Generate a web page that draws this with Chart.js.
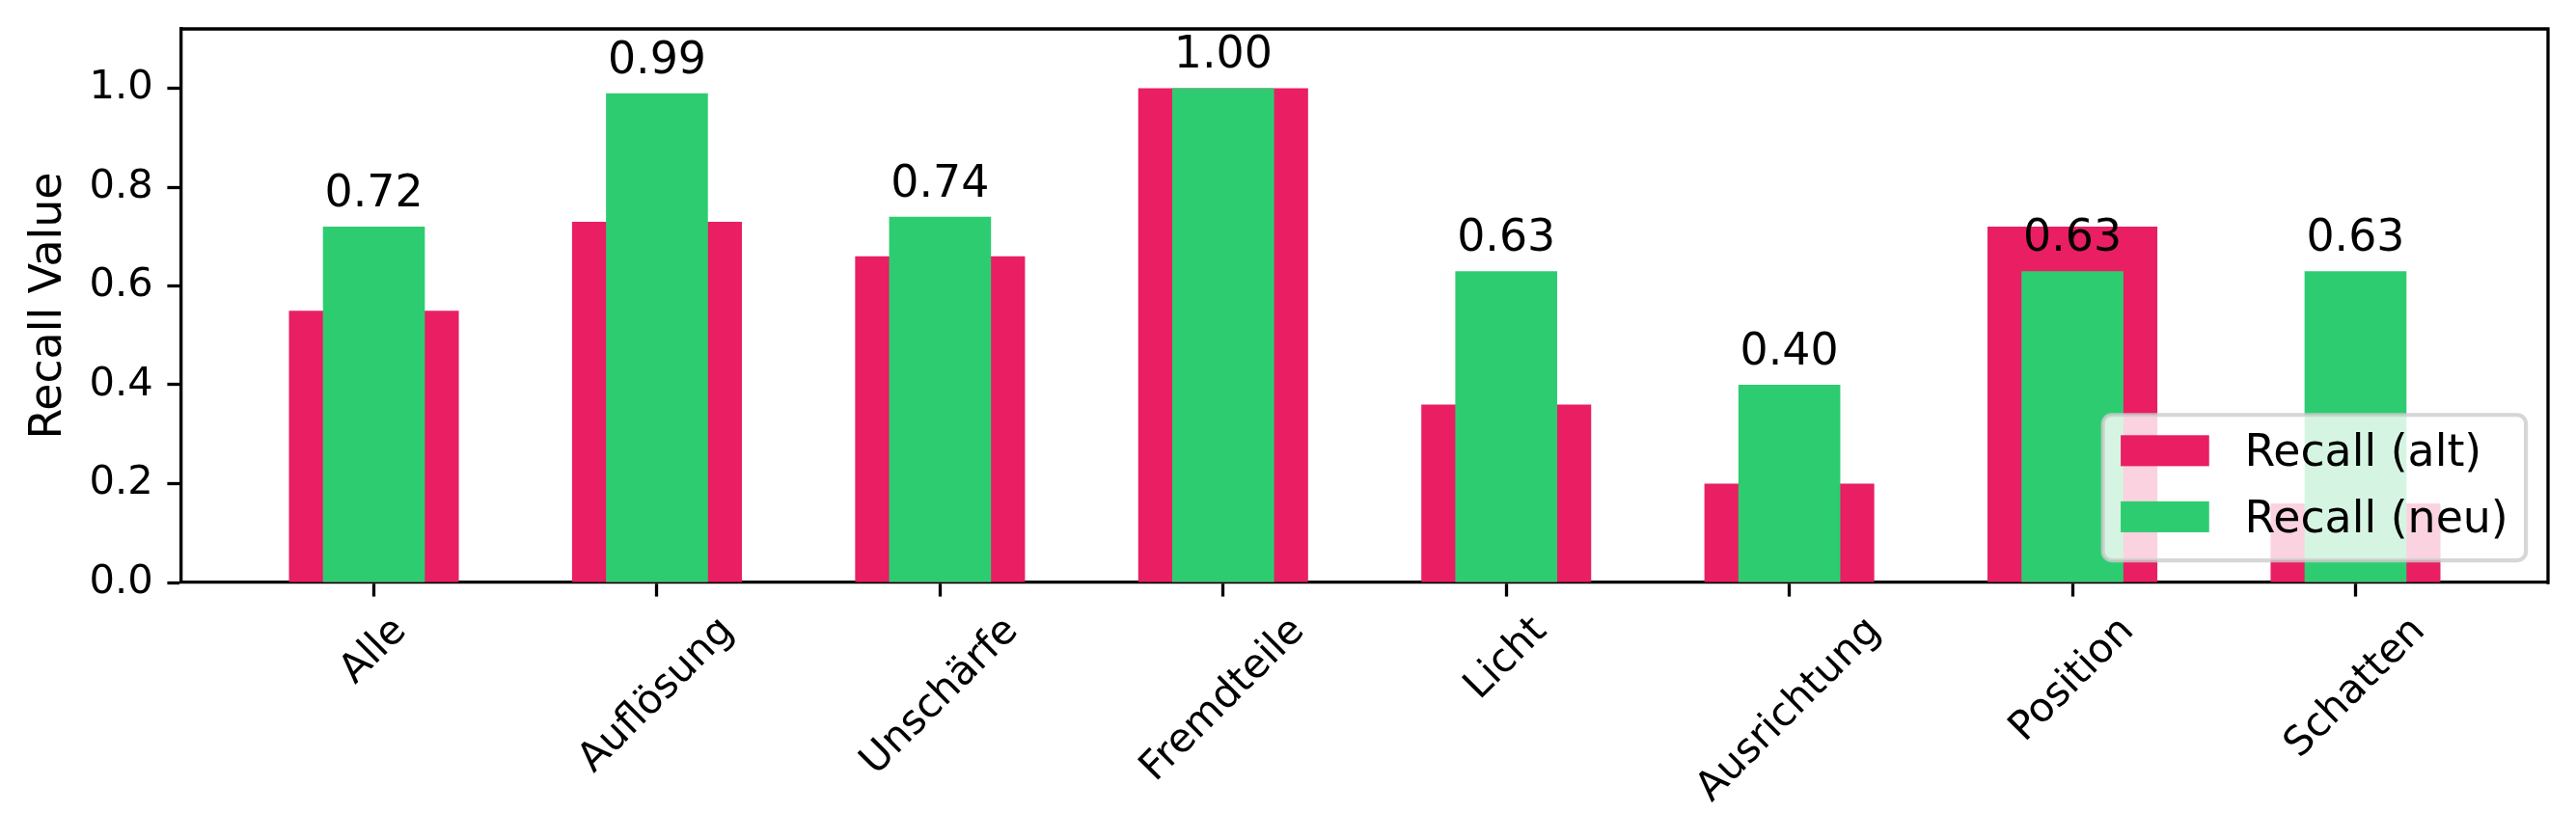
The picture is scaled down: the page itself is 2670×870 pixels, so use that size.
<!DOCTYPE html>
<html>
<head>
<meta charset="utf-8">
<script src="https://cdn.jsdelivr.net/npm/chart.js@4.4.1/dist/chart.umd.min.js"></script>
<style>
  html, body { margin: 0; padding: 0; background: #ffffff; }
  #wrap { width: 2670px; height: 870px; }
</style>
</head>
<body>
<div id="wrap"><canvas id="c" width="2670" height="870"></canvas></div>
<script>
// ---- data ----
const categories = ['Alle', 'Auflösung', 'Unschärfe', 'Fremdteile', 'Licht', 'Ausrichtung', 'Position', 'Schatten'];
const recallAlt = [0.55, 0.73, 0.66, 1.00, 0.36, 0.20, 0.72, 0.16];
const recallNeu = [0.72, 0.99, 0.74, 1.00, 0.63, 0.40, 0.63, 0.63];
const seriesNames = ['Recall (alt)', 'Recall (neu)'];
const yTickValues = [0.0, 0.2, 0.4, 0.6, 0.8, 1.0];
const yTitle = 'Recall Value';

// ---- style ----
const FONT = '"DejaVu Sans", "Liberation Sans", sans-serif';
const FS10 = 41.67, FS11 = 45.83;
const RED = '#E91E63', GREEN = '#2ECC71';
const TICK_LEN = 14.6, TICK_PAD = 14.6, SPINE = 3.3;

const spinesPlugin = {
  id: 'spines',
  afterDraw(chart) {
    const {ctx, chartArea: a} = chart;
    ctx.save();
    ctx.strokeStyle = '#000';
    ctx.lineWidth = SPINE;
    ctx.lineCap = 'square';
    ctx.beginPath();
    ctx.moveTo(a.left, a.top); ctx.lineTo(a.right, a.top); ctx.lineTo(a.right, a.bottom);
    ctx.stroke();
    ctx.restore();
  }
};

const valueLabelPlugin = {
  id: 'valueLabels',
  afterDatasetsDraw(chart) {
    const {ctx} = chart;
    const ys = chart.scales.y;
    const meta = chart.getDatasetMeta(1);
    ctx.save();
    ctx.font = FS11 + 'px ' + FONT;
    ctx.fillStyle = '#000';
    ctx.textAlign = 'center';
    ctx.textBaseline = 'alphabetic';
    meta.data.forEach((el, i) => {
      const v = recallNeu[i];
      const y = ys.getPixelForValue(v + 0.02) - 0.236 * FS11;
      ctx.fillText(v.toFixed(2), el.x, y);
    });
    ctx.restore();
  }
};

const xLabelPlugin = {
  id: 'xLabels',
  afterDraw(chart) {
    const {ctx, chartArea: a} = chart;
    const xs = chart.scales.x;
    ctx.save();
    ctx.font = FS10 + 'px ' + FONT;
    ctx.fillStyle = '#000';
    ctx.textAlign = 'center';
    ctx.textBaseline = 'alphabetic';
    const h = 0.996 * FS10, d = 0.236 * FS10;
    const top = a.bottom + TICK_LEN + TICK_PAD;
    categories.forEach((lab, i) => {
      const w = ctx.measureText(lab).width;
      const side = (w + h) * Math.SQRT1_2;
      const cx = xs.getPixelForValue(i);
      const cy = top + side / 2;
      ctx.save();
      ctx.translate(cx, cy);
      ctx.rotate(-Math.PI / 4);
      ctx.fillText(lab, 0, h / 2 - d);
      ctx.restore();
    });
    ctx.restore();
  }
};

const legendPlugin = {
  id: 'boxLegend',
  afterDraw(chart) {
    const {ctx, chartArea: a} = chart;
    const fs = FS11;
    ctx.save();
    ctx.font = fs + 'px ' + FONT;
    const tw = Math.max(...seriesNames.map(n => ctx.measureText(n).width));
    const bp = 0.4 * fs, ls = 0.5 * fs, hl = 2 * fs, hh = 0.7 * fs, htp = 0.8 * fs, bap = 0.5 * fs;
    const rowH = 0.996 * fs, d = 0.236 * fs;
    const W = 2 * bp + hl + htp + tw, H = 2 * bp + 2 * rowH + ls;
    const right = a.right - bap, bottom = a.bottom - bap;
    const left = right - W, top = bottom - H;
    ctx.beginPath();
    ctx.roundRect(left, top, W, H, 0.2 * fs);
    ctx.fillStyle = 'rgba(255,255,255,0.8)';
    ctx.fill();
    ctx.lineWidth = 4.17;
    ctx.strokeStyle = 'rgba(204,204,204,0.8)';
    ctx.stroke();
    const colors = [RED, GREEN];
    seriesNames.forEach((name, r) => {
      const rowTop = top + bp + r * (rowH + ls);
      const base = rowTop + rowH - d;
      ctx.fillStyle = colors[r];
      ctx.fillRect(left + bp, base - hh, hl, hh);
      ctx.fillStyle = '#000';
      ctx.textAlign = 'left';
      ctx.textBaseline = 'alphabetic';
      ctx.fillText(name, left + bp + hl + htp, base);
    });
    ctx.restore();
  }
};

new Chart(document.getElementById('c'), {
  type: 'bar',
  data: {
    datasets: [
      {
        label: seriesNames[0],
        data: categories.map((c, i) => ({x: i, y: recallAlt[i]})),
        backgroundColor: RED,
        categoryPercentage: 1.0,
        barPercentage: 0.6,
        grouped: false,
        order: 1
      },
      {
        label: seriesNames[1],
        data: categories.map((c, i) => ({x: i, y: recallNeu[i]})),
        backgroundColor: GREEN,
        categoryPercentage: 1.0,
        barPercentage: 0.36,
        grouped: false,
        order: 0
      }
    ]
  },
  options: {
    responsive: false,
    animation: false,
    devicePixelRatio: 1,
    layout: { padding: { top: 30, right: 29, bottom: 0, left: 0 } },
    plugins: { legend: { display: false }, tooltip: { enabled: false } },
    scales: {
      x: {
        type: 'linear',
        offset: false,
        min: -0.68,
        max: 7.68,
        z: 1,
        afterBuildTicks: s => { s.ticks = categories.map((c, i) => ({value: i})); },
        ticks: { display: false },
        grid: { display: true, offset: false, drawOnChartArea: false, drawTicks: true, tickLength: TICK_LEN, tickWidth: SPINE, tickColor: '#000' },
        border: { display: true, color: '#000', width: SPINE },
        afterFit: s => { s.height = 266; s.paddingLeft = 0; s.paddingRight = 0; }
      },
      y: {
        min: 0,
        max: 1.12,
        z: 1,
        afterBuildTicks: s => { s.ticks = yTickValues.map(v => ({value: v})); },
        ticks: {
          font: { family: FONT, size: FS10 },
          color: '#000',
          padding: TICK_PAD,
          callback: v => Number(v).toFixed(1)
        },
        grid: { display: true, drawOnChartArea: false, drawTicks: true, tickLength: TICK_LEN, tickWidth: SPINE, tickColor: '#000' },
        border: { display: true, color: '#000', width: SPINE },
        title: {
          display: true,
          text: yTitle,
          color: '#000',
          font: { family: FONT, size: FS11 },
          padding: { top: 23.5, bottom: 0 }
        },
        afterFit: s => { s.width = 188; s.paddingTop = 0; s.paddingBottom = 0; }
      }
    }
  },
  plugins: [valueLabelPlugin, spinesPlugin, xLabelPlugin, legendPlugin]
});
</script>
</body>
</html>
